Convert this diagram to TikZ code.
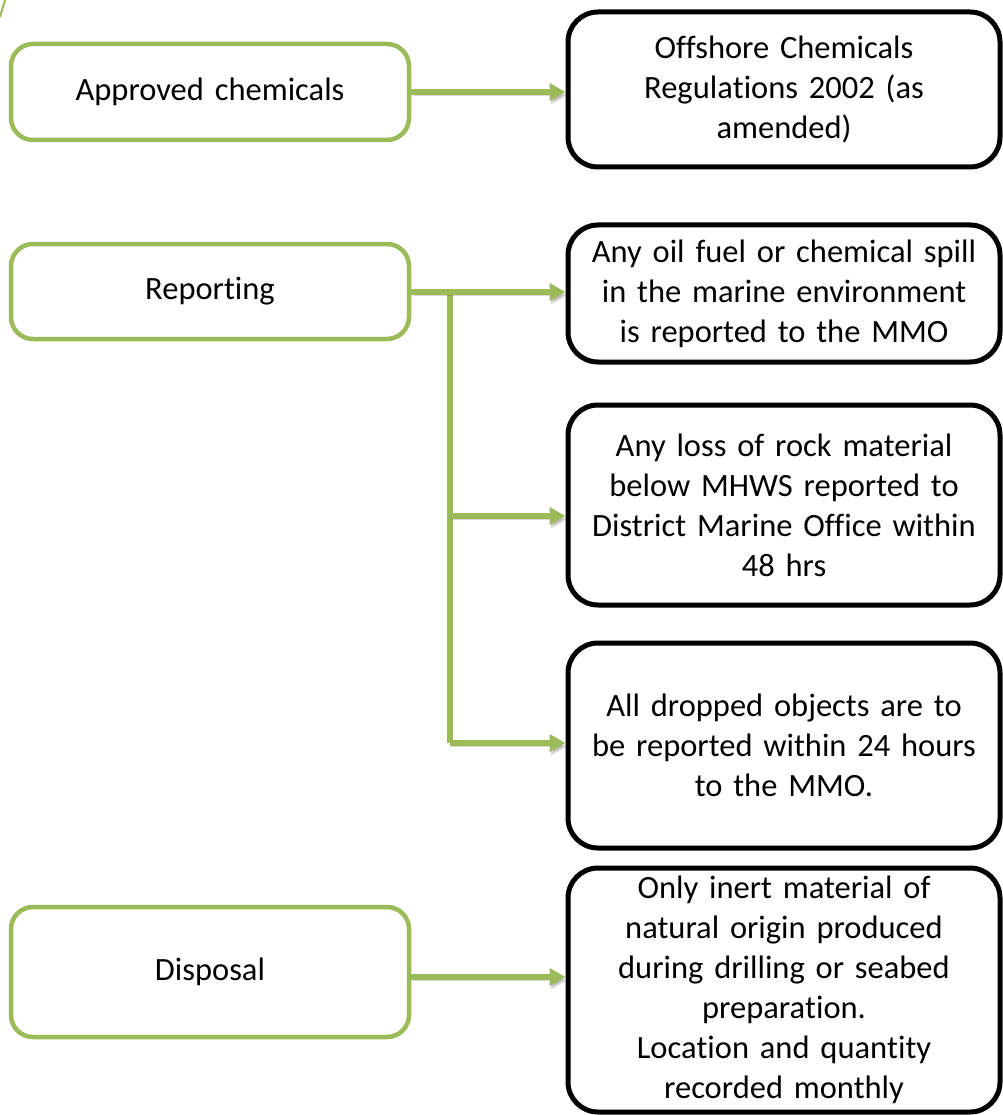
\documentclass[tikz,border=0pt]{standalone}
\usepackage{fontspec}
\setmainfont{Carlito}[RawFeature={-liga;-clig;-calt;-dlig}]
\usetikzlibrary{arrows.meta}
\definecolor{leaf}{HTML}{9BBB59}
\begin{document}
\begin{tikzpicture}[x=1pt,y=-1pt,
  every node/.style={font=\fontsize{32.5}{40}\selectfont},
  catbox/.style={draw=leaf, line width=4.5pt, rounded corners=22pt,
    minimum width=398pt, inner sep=0pt, text width=380pt, align=center},
  rulebox/.style={draw=black, line width=5pt, rounded corners=30pt,
    minimum width=432pt, inner sep=0pt, text width=420pt, align=center},
  flow/.style={draw=leaf, line width=6pt,
    -{Triangle[length=16pt,width=17pt]},
    preaction={draw=black, opacity=.15,
      transform canvas={xshift=1.5pt,yshift=-3.5pt}}},
  trunk/.style={draw=leaf, line width=6pt,
    preaction={draw=black, opacity=.15,
      transform canvas={xshift=1.5pt,yshift=-3.5pt}}}]
\useasboundingbox (0,0) rectangle (1002,1115);

% fragment of a curve at the top-left edge
\draw[leaf, line width=2pt] (0,17) .. controls (2,8) .. (5,0);

% categories
\node[catbox, minimum height=96pt]  (approved) at (210,92)    {Approved chemicals};
\node[catbox, minimum height=95pt]  (reporting) at (210,291.5) {Repor\kern0pt ting};
\node[catbox, minimum height=130pt] (disposal) at (210,972)   {Disposal};

% requirements
\node[rulebox, minimum height=155pt] (ocr) at (784,89.5)
  {Offshore Chemicals\\Regula\kern0pt tions 2002 (as\\amended)};
\node[rulebox, minimum height=137pt] (spill) at (784,293.5)
  {Any oil fuel or chemical spill\\in the marine environment\\is reported to the MMO};
\node[rulebox, minimum height=200pt] (rock) at (784,505)
  {Any loss of rock material\\below MHWS reported to\\District Marine Office within\\48 hrs};
\node[rulebox, minimum height=205pt] (dropped) at (784,745.5)
  {All dropped objects are to\\be reported within 24 hours\\to the MMO.};
\node[rulebox, minimum height=244pt] (inert) at (784,990)
  {Only inert material of\\natural origin produced\\during drilling or seabed\\prepara\kern0pt tion.\\Loca\kern0pt tion and quan\kern0pt tity\\recorded monthly};

% connectors
\coordinate (jtop) at (450,292);
\coordinate (jrock) at (450,516);
\coordinate (jdrop) at (450,743);
\coordinate (dlev) at (0,977);

\draw[flow] (approved.east) -- (approved.east -| ocr.west);
\draw[trunk] (jtop) -- (jdrop);
\draw[flow] (reporting.east |- jtop) -- (jtop -| spill.west);
\draw[flow] (jrock) -- (jrock -| rock.west);
\draw[flow] (jdrop) -- (jdrop -| dropped.west);
\draw[flow] (disposal.east |- dlev) -- (dlev -| inert.west);
\end{tikzpicture}
\end{document}
